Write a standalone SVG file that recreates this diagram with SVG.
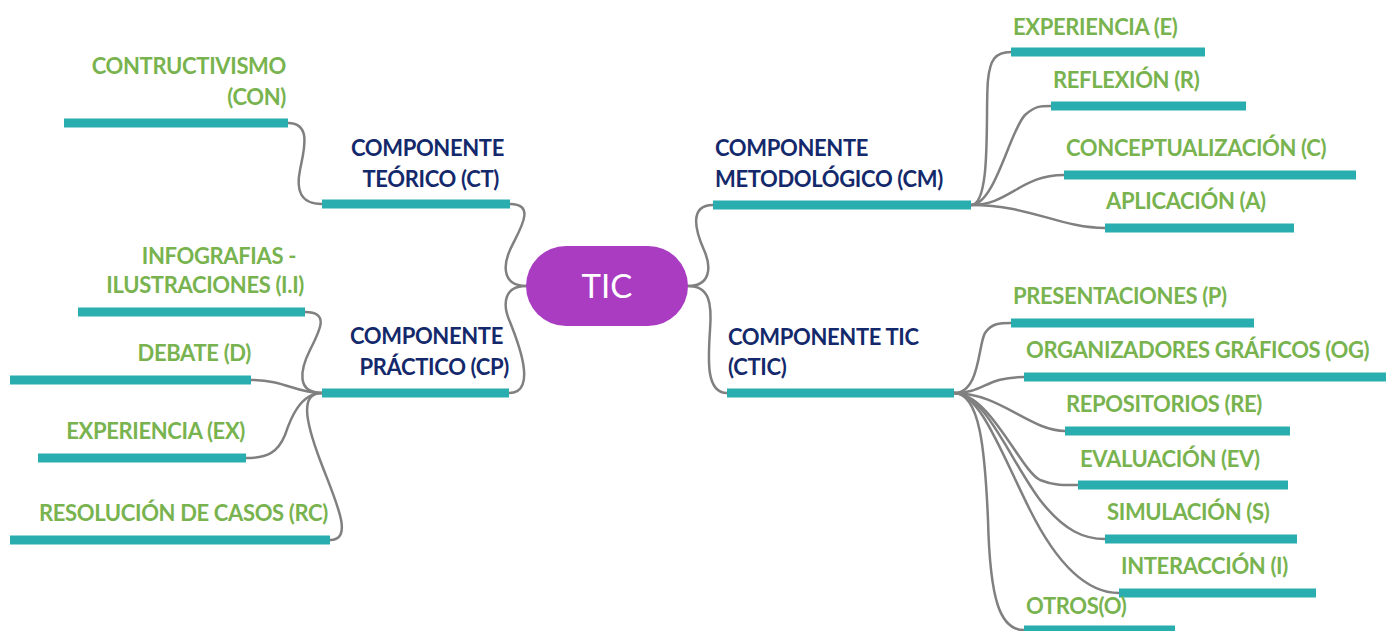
<svg xmlns="http://www.w3.org/2000/svg" width="1386" height="631" viewBox="0 0 1386 631">
<style>
.bar{stroke:#2aadae;stroke-width:9;stroke-linecap:butt}
.c{fill:none;stroke:#808080;stroke-width:2.5;stroke-linecap:round}
.g{font-family:Lato,"Liberation Sans",sans-serif;font-weight:bold;font-size:22px;letter-spacing:-0.35px;fill:#78b34f}
.n{font-family:Lato,"Liberation Sans",sans-serif;font-weight:bold;font-size:22px;letter-spacing:-0.35px;fill:#14296b}
.e{text-anchor:end}
</style>
<rect width="1386" height="631" fill="#ffffff"/>
<g id="connectors">
<path class="c" d="M526,286 C504,286 502,268 510,250 C518,232 538,204 510,204"/>
<path class="c" d="M526,286 C504,286 502,304 510,322 C518,342 538,393 509,393"/>
<path class="c" d="M688,286 C710,286 712,268 704,250 C696,232 688,205 713,205"/>
<path class="c" d="M688,286 C710,286 712,304 710,330 C708,360 706,393 727,393"/>
<path class="c" d="M288,123 C312,123 304,150 300,170 C296,190 300,204 322,204"/>
<path class="c" d="M322,393 C296,393 300,370 310,350 C320,330 330,312 305,312"/>
<path class="c" d="M322,393 C295,393 285,380 251,380"/>
<path class="c" d="M322,393 C300,393 290,420 285,435 C278,452 268,458 246,458"/>
<path class="c" d="M322,393 C300,393 305,420 320,460 C335,500 355,540 330,540"/>
<path class="c" d="M971,205 C992,205 985,110 988,80 C990,60 995,52 1011,52"/>
<path class="c" d="M971,205 C995,205 1010,130 1025,115 C1035,106 1040,106 1051,106"/>
<path class="c" d="M971,205 C1010,205 1020,175 1064,175"/>
<path class="c" d="M971,205 C1030,205 1060,228 1105,228"/>
<path class="c" d="M954,393 C980,393 978,345 985,333 C992,323 1000,323 1011,323"/>
<path class="c" d="M954,393 C985,393 985,377 1024,377"/>
<path class="c" d="M954,393 C1000,393 1030,431 1065,431"/>
<path class="c" d="M954,393 C990,393 1020,470 1040,480 C1055,486 1065,485 1078,485"/>
<path class="c" d="M954,393 C985,393 1010,460 1040,500 C1065,532 1085,539 1105,539"/>
<path class="c" d="M954,393 C980,393 1000,450 1030,510 C1060,570 1090,593 1119,593"/>
<path class="c" d="M954,393 C980,393 985,450 988,520 C990,600 1000,630 1024,630"/>
</g>
<g id="tic">
<rect x="526" y="246" width="162" height="80" rx="40" fill="#a93cc1"/>
<text x="607" y="298" text-anchor="middle" font-family="Lato,'Liberation Sans',sans-serif" font-size="33" fill="#ffffff">TIC</text>
</g>
<g id="ct"><line class="bar" x1="322" y1="204" x2="510" y2="204"/><text class="n e" x="504" y="156">COMPONENTE</text><text class="n e" x="499" y="187">TEÓRICO (CT)</text></g>
<g id="con"><line class="bar" x1="64" y1="123" x2="288" y2="123"/><text class="g e" x="286" y="74">CONTRUCTIVISMO</text><text class="g e" x="286" y="105">(CON)</text></g>
<g id="cp"><line class="bar" x1="322" y1="393" x2="509" y2="393"/><text class="n e" x="503" y="344">COMPONENTE</text><text class="n e" x="509" y="375">PRÁCTICO (CP)</text></g>
<g id="ii"><line class="bar" x1="78" y1="312" x2="305" y2="312"/><text class="g e" x="296" y="264">INFOGRAFIAS -</text><text class="g e" x="304" y="293">ILUSTRACIONES (I.I)</text></g>
<g id="d"><line class="bar" x1="10" y1="380" x2="251" y2="380"/><text class="g e" x="251" y="361">DEBATE (D)</text></g>
<g id="ex"><line class="bar" x1="38" y1="458" x2="246" y2="458"/><text class="g e" x="245" y="439">EXPERIENCIA (EX)</text></g>
<g id="rc"><line class="bar" x1="10" y1="540" x2="330" y2="540"/><text class="g e" x="328" y="521">RESOLUCIÓN DE CASOS (RC)</text></g>
<g id="cm"><line class="bar" x1="713" y1="205" x2="971" y2="205"/><text class="n" x="715" y="156">COMPONENTE</text><text class="n" x="715" y="187">METODOLÓGICO (CM)</text></g>
<g id="e"><line class="bar" x1="1011" y1="52" x2="1205" y2="52"/><text class="g" x="1013" y="35">EXPERIENCIA (E)</text></g>
<g id="r"><line class="bar" x1="1051" y1="106" x2="1246" y2="106"/><text class="g" x="1053" y="88">REFLEXIÓN (R)</text></g>
<g id="cc"><line class="bar" x1="1064" y1="175" x2="1356" y2="175"/><text class="g" x="1066" y="156">CONCEPTUALIZACIÓN (C)</text></g>
<g id="a"><line class="bar" x1="1105" y1="228" x2="1294" y2="228"/><text class="g" x="1106" y="209">APLICACIÓN (A)</text></g>
<g id="ctic"><line class="bar" x1="727" y1="393" x2="954" y2="393"/><text class="n" x="728" y="345">COMPONENTE TIC</text><text class="n" x="728" y="375">(CTIC)</text></g>
<g id="p"><line class="bar" x1="1011" y1="323" x2="1254" y2="323"/><text class="g" x="1013" y="304">PRESENTACIONES (P)</text></g>
<g id="og"><line class="bar" x1="1024" y1="377" x2="1386" y2="377"/><text class="g" x="1026" y="358">ORGANIZADORES GRÁFICOS (OG)</text></g>
<g id="re"><line class="bar" x1="1065" y1="431" x2="1290" y2="431"/><text class="g" x="1066" y="412">REPOSITORIOS (RE)</text></g>
<g id="ev"><line class="bar" x1="1078" y1="485" x2="1288" y2="485"/><text class="g" x="1080" y="467">EVALUACIÓN (EV)</text></g>
<g id="s"><line class="bar" x1="1105" y1="539" x2="1297" y2="539"/><text class="g" x="1107" y="520">SIMULACIÓN (S)</text></g>
<g id="i"><line class="bar" x1="1119" y1="593" x2="1316" y2="593"/><text class="g" x="1121" y="574">INTERACCIÓN (I)</text></g>
<g id="o"><line class="bar" x1="1024" y1="630" x2="1175" y2="630"/><text class="g" x="1026" y="614">OTROS(O)</text></g>
</svg>
